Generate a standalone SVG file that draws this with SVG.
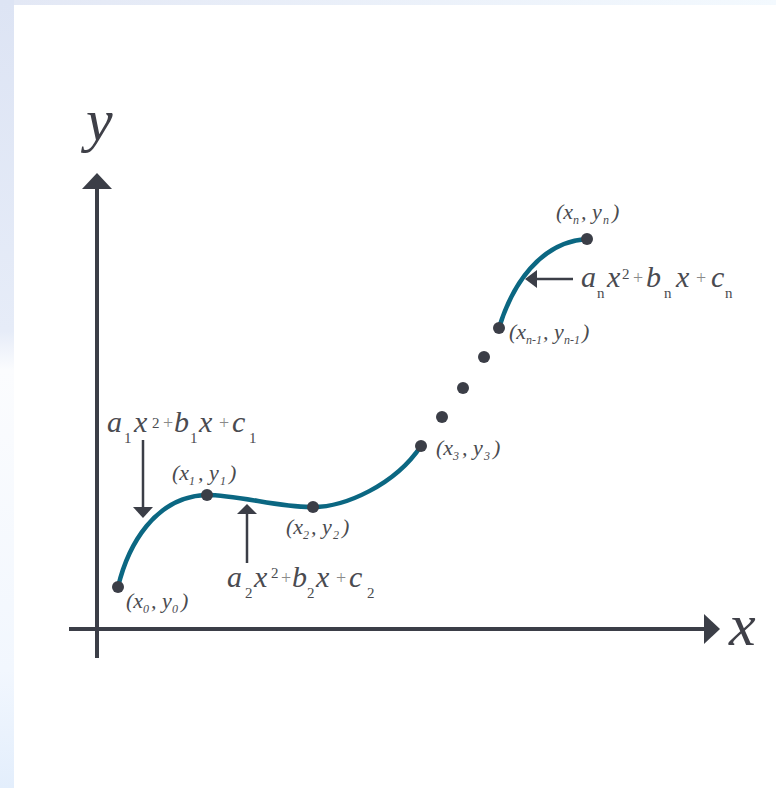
<svg xmlns="http://www.w3.org/2000/svg" width="776" height="788" viewBox="0 0 776 788">
<defs>
<linearGradient id="lg" x1="0" y1="0" x2="0" y2="1">
<stop offset="0" stop-color="#dde4f4"/><stop offset="0.42" stop-color="#e6ecf8"/><stop offset="0.47" stop-color="#fbfcfe"/><stop offset="0.85" stop-color="#f2f7fe"/><stop offset="1" stop-color="#e3eefc"/>
</linearGradient>
<linearGradient id="tg" x1="0" y1="0" x2="1" y2="0">
<stop offset="0" stop-color="#e3e8f5"/><stop offset="1" stop-color="#f3f9fe"/>
</linearGradient>
<style>
.ax{stroke:#3b3e47;stroke-width:4;fill:none}
.ah{fill:#3b3e47}
.cv{stroke:#0b6782;stroke-width:4.5;fill:none;stroke-linecap:round}
.ar{stroke:#3b3e47;stroke-width:2.5;fill:none}
.dot{fill:#3b3e47}
.sub{font-size:15px;font-style:normal}
.pl{font-size:18px;font-style:normal;fill:#8a8a8a}
.ls{font-size:12px}
</style>
</defs>
<rect width="776" height="788" fill="#ffffff"/>
<rect x="0" y="0" width="14" height="788" fill="url(#lg)"/>
<rect x="14" y="0" width="762" height="5" fill="url(#tg)"/>

<g id="axes">
<line class="ax" x1="97" y1="186" x2="97" y2="658"/>
<polygon class="ah" points="82,189 112,189 97,173"/>
<line class="ax" x1="69" y1="629" x2="706" y2="629"/>
<polygon class="ah" points="704,614 704,644 720,629"/>
<text id="label-y" x="86" y="140" font-family="Liberation Serif, serif" font-style="italic" font-size="60" fill="#3f4048">y</text>
<text id="label-x" x="729" y="645" font-family="Liberation Serif, serif" font-style="italic" font-size="60" fill="#3f4048">x</text>
</g>

<g id="connectors">
<path class="cv" d="M118,587 C128,545 155,497 206,495"/>
<path class="cv" d="M206,495 C240,495 280,508 313,507"/>
<path class="cv" d="M313,507 C345,507 395,485 421,446"/>
<path class="cv" d="M499,328 C512,285 540,242 587,239"/>
<line class="ar" x1="143" y1="440" x2="143" y2="509"/>
<polygon class="ah" points="133,507 153,507 143,518"/>
<line class="ar" x1="247" y1="563" x2="247" y2="512"/>
<polygon class="ah" points="237,514 257,514 247,504"/>
<line class="ar" x1="573" y1="279" x2="535" y2="279"/>
<polygon class="ah" points="537,270 537,288 525,279"/>
</g>

<g id="p0"><circle class="dot" cx="118" cy="587" r="6"/>
<text font-family="Liberation Serif, serif" font-style="italic" font-size="22" fill="#4a4b50"><tspan x="126" y="608">(x</tspan><tspan class="ls" x="143" y="613">0</tspan><tspan x="151" y="608">, y</tspan><tspan class="ls" x="172" y="613">0</tspan><tspan x="181" y="608">)</tspan></text></g>

<g id="p1"><circle class="dot" cx="207" cy="495" r="6"/>
<text font-family="Liberation Serif, serif" font-style="italic" font-size="22" fill="#4a4b50"><tspan x="172" y="480">(x</tspan><tspan class="ls" x="189" y="485">1</tspan><tspan x="198" y="480">, y</tspan><tspan class="ls" x="220" y="485">1</tspan><tspan x="229" y="480">)</tspan></text></g>

<g id="p2"><circle class="dot" cx="313" cy="507" r="6"/>
<text font-family="Liberation Serif, serif" font-style="italic" font-size="22" fill="#4a4b50"><tspan x="286" y="534">(x</tspan><tspan class="ls" x="303" y="539">2</tspan><tspan x="311" y="534">, y</tspan><tspan class="ls" x="333" y="539">2</tspan><tspan x="342" y="534">)</tspan></text></g>

<g id="p3"><circle class="dot" cx="421" cy="446" r="6"/>
<text font-family="Liberation Serif, serif" font-style="italic" font-size="22" fill="#4a4b50"><tspan x="436" y="455">(x</tspan><tspan class="ls" x="453" y="460">3</tspan><tspan x="462" y="455">, y</tspan><tspan class="ls" x="484" y="460">3</tspan><tspan x="493" y="455">)</tspan></text></g>

<g id="ellipsis">
<circle class="dot" cx="442" cy="417" r="6"/>
<circle class="dot" cx="463" cy="388" r="6"/>
<circle class="dot" cx="484" cy="357" r="6"/>
</g>

<g id="pn1"><circle class="dot" cx="499" cy="328" r="6"/>
<text font-family="Liberation Serif, serif" font-style="italic" font-size="22" fill="#4a4b50"><tspan x="509" y="339">(x</tspan><tspan class="ls" x="526" y="344">n-1</tspan><tspan x="543" y="339">, y</tspan><tspan class="ls" x="564" y="344">n-1</tspan><tspan x="582" y="339">)</tspan></text></g>

<g id="pn"><circle class="dot" cx="587" cy="239" r="6"/>
<text font-family="Liberation Serif, serif" font-style="italic" font-size="22" fill="#4a4b50"><tspan x="556" y="219">(x</tspan><tspan class="ls" x="573" y="224">n</tspan><tspan x="581" y="219">, y</tspan><tspan class="ls" x="603" y="224">n</tspan><tspan x="612" y="219">)</tspan></text></g>

<g id="eq1"><text font-family="Liberation Serif, serif" font-style="italic" font-size="30" fill="#4a4b50"><tspan x="107" y="432">a</tspan><tspan class="sub" x="124" y="443">1</tspan><tspan x="134" y="432">x</tspan><tspan class="sub" x="152" y="428">2</tspan><tspan class="pl" x="163" y="429">+</tspan><tspan x="174" y="432">b</tspan><tspan class="sub" x="190" y="443">1</tspan><tspan x="199" y="432">x</tspan><tspan class="pl" x="219" y="429">+</tspan><tspan x="232" y="432">c</tspan><tspan class="sub" x="249" y="443">1</tspan></text></g>

<g id="eq2"><text font-family="Liberation Serif, serif" font-style="italic" font-size="30" fill="#4a4b50"><tspan x="227" y="587">a</tspan><tspan class="sub" x="245" y="598">2</tspan><tspan x="254" y="587">x</tspan><tspan class="sub" x="271" y="578">2</tspan><tspan class="pl" x="281" y="584">+</tspan><tspan x="292" y="587">b</tspan><tspan class="sub" x="307" y="598">2</tspan><tspan x="316" y="587">x</tspan><tspan class="pl" x="336" y="584">+</tspan><tspan x="349" y="587">c</tspan><tspan class="sub" x="367" y="598">2</tspan></text></g>

<g id="eqn"><text font-family="Liberation Serif, serif" font-style="italic" font-size="30" fill="#4a4b50"><tspan x="581" y="287">a</tspan><tspan class="sub" x="597" y="298">n</tspan><tspan x="607" y="287">x</tspan><tspan class="sub" x="622" y="279">2</tspan><tspan class="pl" x="633" y="284">+</tspan><tspan x="646" y="287">b</tspan><tspan class="sub" x="664" y="298">n</tspan><tspan x="676" y="287">x</tspan><tspan class="pl" x="696" y="284">+</tspan><tspan x="711" y="287">c</tspan><tspan class="sub" x="725" y="298">n</tspan></text></g>
</svg>
